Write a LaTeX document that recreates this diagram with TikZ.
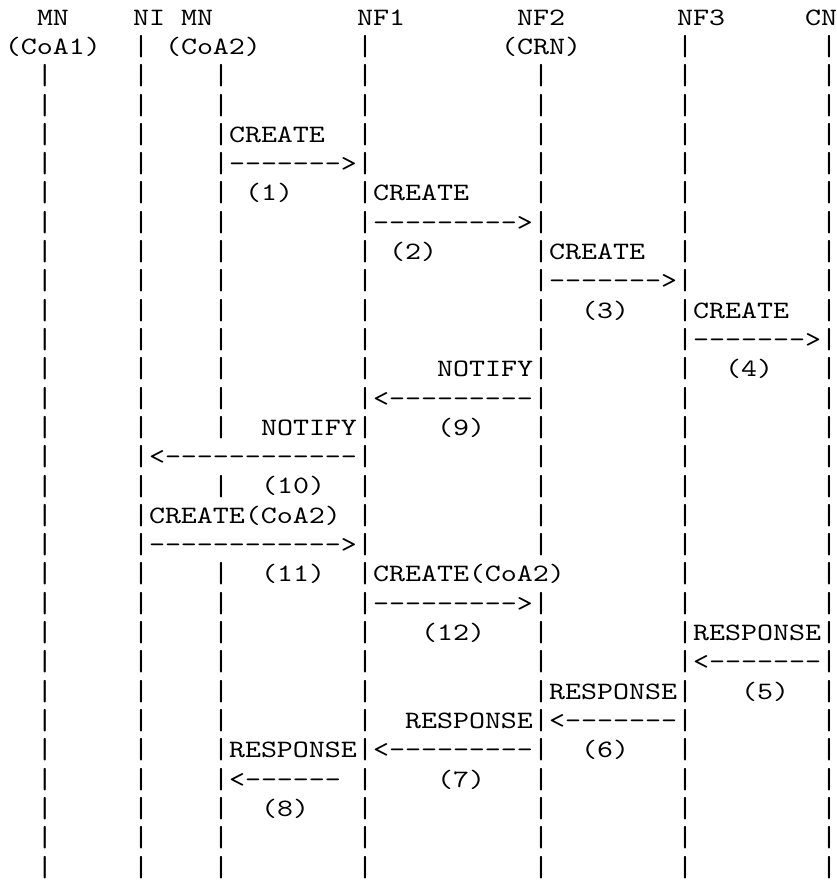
\documentclass[tikz,border=0pt]{standalone}
\usepackage{fontspec}
\newfontfamily\ascfont[FakeStretch=1.219]{lmmono10-regular.otf}
\tikzset{
  tx/.style={anchor=base west, inner sep=0pt, outer sep=0pt, text=black,
    font=\ascfont\fontsize{25pt}{29pt}\selectfont},
}
\newsavebox\ascbarbox
\newcommand\ascbar{\sbox\ascbarbox{|}%
  \sbox\ascbarbox{\resizebox*{\wd\ascbarbox}{22.5pt}{|}}%
  \raisebox{\dimexpr\dp\ascbarbox-3.5pt\relax}{\usebox\ascbarbox}}
\newcommand\asctok[3]{\node[tx] (t-#1-#2) at ({5+16*#2},{-25-29.31*#1}) {#3};}
\newcommand\ascbars[2]{\foreach \c in {#2} {\node[tx] (b-#1-\c) at ({5+16*\c},{-25-29.31*#1}) {\ascbar};}}
\newcommand\ascall[1]{\ascbars{#1}{2,8,13,22,33,42,51}}
\begin{document}
\begin{tikzpicture}[x=1pt,y=1pt]
\useasboundingbox[fill=white] (0,0) rectangle (837,-881);
% row 0
\asctok{0}{2}{MN}\asctok{0}{8}{NI}\asctok{0}{11}{MN}\asctok{0}{22}{NF1}
\asctok{0}{32}{NF2}\asctok{0}{42}{NF3}\asctok{0}{50}{CN}
% row 1
\ascbars{1}{8,22,42,51}
\asctok{1}{0}{(CoA1)}\asctok{1}{10}{(CoA2)}\asctok{1}{31}{(CRN)}
% rows 2-3
\ascall{2}\ascall{3}
\ascall{4}\asctok{4}{14}{CREATE}
\ascall{5}\asctok{5}{14}{------->}
\ascall{6}\asctok{6}{15}{(1)}\asctok{6}{23}{CREATE}
\ascall{7}\asctok{7}{23}{--------->}
\ascall{8}\asctok{8}{24}{(2)}\asctok{8}{34}{CREATE}
\ascall{9}\asctok{9}{34}{------->}
\ascall{10}\asctok{10}{36}{(3)}\asctok{10}{43}{CREATE}
\ascall{11}\asctok{11}{43}{------->}
\ascall{12}\asctok{12}{27}{NOTIFY}\asctok{12}{45}{(4)}
\ascall{13}\asctok{13}{23}{<---------}
\ascall{14}\asctok{14}{16}{NOTIFY}\asctok{14}{27}{(9)}
\ascbars{15}{2,8,22,33,42,51}\asctok{15}{9}{<------------}
\ascall{16}\asctok{16}{16}{(10)}
\ascbars{17}{2,8,22,33,42,51}\asctok{17}{9}{CREATE(CoA2)}
\ascbars{18}{2,8,22,33,42,51}\asctok{18}{9}{------------>}
\ascbars{19}{2,8,13,22,42,51}\asctok{19}{16}{(11)}\asctok{19}{23}{CREATE(CoA2)}
\ascall{20}\asctok{20}{23}{--------->}
\ascall{21}\asctok{21}{26}{(12)}\asctok{21}{43}{RESPONSE}
\ascall{22}\asctok{22}{43}{<-------}
\ascall{23}\asctok{23}{34}{RESPONSE}\asctok{23}{46}{(5)}
\ascall{24}\asctok{24}{25}{RESPONSE}\asctok{24}{34}{<-------}
\ascall{25}\asctok{25}{14}{RESPONSE}\asctok{25}{23}{<---------}\asctok{25}{36}{(6)}
\ascall{26}\asctok{26}{14}{<------}\asctok{26}{27}{(7)}
\ascall{27}\asctok{27}{16}{(8)}
\ascall{28}\ascall{29}
\end{tikzpicture}
\end{document}
